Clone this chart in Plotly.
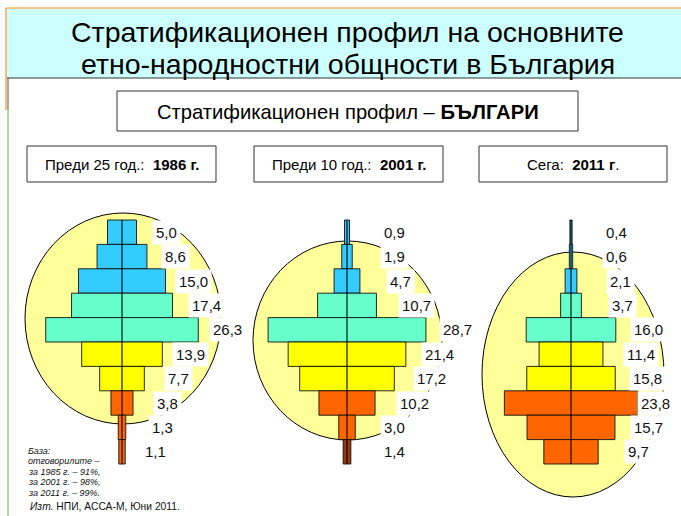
import plotly.graph_objects as go

# ---------------- data ----------------
strata = list(range(10))  # 0 = top stratum, 9 = bottom stratum
values_1986 = [5.0, 8.6, 15.0, 17.4, 26.3, 13.9, 7.7, 3.8, 1.3, 1.1]
values_2001 = [0.9, 1.9, 4.7, 10.7, 28.7, 21.4, 17.2, 10.2, 3.0, 1.4]
values_2011 = [0.4, 0.6, 2.1, 3.7, 16.0, 11.4, 15.8, 23.8, 15.7, 9.7]
labels_1986 = ["5,0", "8,6", "15,0", "17,4", "26,3", "13,9", "7,7", "3,8", "1,3", "1,1"]
labels_2001 = ["0,9", "1,9", "4,7", "10,7", "28,7", "21,4", "17,2", "10,2", "3,0", "1,4"]
labels_2011 = ["0,4", "0,6", "2,1", "3,7", "16,0", "11,4", "15,8", "23,8", "15,7", "9,7"]

title_lines = ["Стратификационен профил на основните", "етно-народностни общности в България"]
subtitle = "Стратификационен профил – <b>БЪЛГАРИ</b>"
period_titles = ["Преди 25 год.:  <b>1986 г.</b>", "Преди 10 год.:  <b>2001 г.</b>", "Сега:  <b>2011 г</b>."]
footnote_base = ["<i>База:</i>", "<i>отговорилите –</i>", "<i>за 1985 г. – 91%,</i>",
                 "<i>за 2001 г. – 98%,</i>", "<i>за 2011 г. – 99%.</i>"]
source = "<i>Изт.</i> НПИ, АССА-М, Юни 2011."

# ---------------- style / layout ----------------
W, H = 681, 516
FONT = "Liberation Sans, Arial, sans-serif"
BLUE, AQUA, YELLOW, ORANGE, BROWN = "#33CCFF", "#66FFCC", "#FFFF00", "#FF6600", "#9A3A0C"
row_colors = [BLUE] * 3 + [AQUA] * 2 + [YELLOW] * 2 + [ORANGE] * 3
colors_2001 = row_colors[:9] + [BROWN]

def px(x):
    return x / W

def py(y):
    return 1 - y / H

# pyramid geometry (pixels): center, pixels per percentage point, domain
pyr = [
    dict(vals=values_1986, labs=labels_1986, cols=row_colors, c=122, k=5.8, dom=(0, 236),
         ell=(25, 213, 221, 424),
         lab_off=[30, 39, 53, 66, 87, 50, 42, 31, 26, 19]),
    dict(vals=values_2001, labs=labels_2001, cols=colors_2001, c=347, k=5.5, dom=(236, 462),
         ell=(253, 241, 442, 440),
         lab_off=[33, 33, 39, 51, 92, 74, 66, 49, 33, 33]),
    dict(vals=values_2011, labs=labels_2011, cols=row_colors, c=571, k=5.6, dom=(462, 681),
         ell=(482, 252, 664, 497),
         lab_off=[31, 31, 35, 37, 59, 52, 58, 66, 59, 53]),
]

# y axis: row i centered at pixel 232.2 + 24.4*i
row_top, row_h = 220.0, 24.4
y_top = -(row_top + row_h / 2) / row_h
y_bot = y_top + H / row_h

fig = go.Figure()
shapes = []
annotations = []

# header decoration
shapes += [
    dict(type="rect", xref="paper", yref="paper", x0=px(7), x1=px(681), y0=py(78), y1=py(8.5),
         fillcolor="#CCFFFF", line=dict(width=0), layer="below"),
    dict(type="line", xref="paper", yref="paper", x0=px(6), x1=px(681), y0=py(8), y1=py(8),
         line=dict(color="#FF8C1A", width=1.2)),
    dict(type="line", xref="paper", yref="paper", x0=px(6), x1=px(6), y0=py(8), y1=py(110),
         line=dict(color="#FF8C1A", width=1.2)),
    dict(type="line", xref="paper", yref="paper", x0=px(7), x1=px(681), y0=py(78), y1=py(78),
         line=dict(color="#333333", width=1)),
    dict(type="line", xref="paper", yref="paper", x0=px(8), x1=px(8), y0=py(78), y1=py(110),
         line=dict(color="#555555", width=1)),
    dict(type="line", xref="paper", yref="paper", x0=px(8), x1=px(8), y0=py(110), y1=py(516),
         line=dict(color="#8FD47F", width=1.5)),
]
for i, line in enumerate(title_lines):
    annotations.append(dict(text=line, xref="paper", yref="paper", x=px(347.5), y=py(31.5 + 32 * i),
                            xanchor="center", yanchor="middle", showarrow=False,
                            font=dict(family=FONT, size=28.5, color="#000000")))

# subtitle box
shapes.append(dict(type="rect", xref="paper", yref="paper", x0=px(117), x1=px(578), y0=py(131), y1=py(91),
                   line=dict(color="#333333", width=1), fillcolor="white"))
annotations.append(dict(text=subtitle, xref="paper", yref="paper", x=px(347.5), y=py(112),
                        xanchor="center", yanchor="middle", showarrow=False,
                        font=dict(family=FONT, size=20.2, color="#000000")))

# period boxes
boxes = [(27, 216), (254, 443), (479, 667)]
for (x0, x1), t in zip(boxes, period_titles):
    shapes.append(dict(type="rect", xref="paper", yref="paper", x0=px(x0), x1=px(x1), y0=py(182), y1=py(146),
                       line=dict(color="#333333", width=1), fillcolor="white"))
    annotations.append(dict(text=t, xref="paper", yref="paper", x=px((x0 + x1) / 2), y=py(164),
                            xanchor="center", yanchor="middle", showarrow=False,
                            font=dict(family=FONT, size=15, color="#000000")))

# pyramids
for n, p in enumerate(pyr):
    ax = "" if n == 0 else str(n + 1)
    xa = "x" + ax
    d0, d1 = p["dom"]
    a = -(p["c"] - d0) / p["k"]
    b = (d1 - p["c"]) / p["k"]
    fig.update_layout(**{("xaxis" + ax): dict(domain=[px(d0), px(d1)], range=[a, b], visible=False,
                                               fixedrange=True, anchor="y")})
    ex0, ey0, ex1, ey1 = p["ell"]
    shapes.append(dict(type="circle", xref="paper", yref="paper", x0=px(ex0), x1=px(ex1),
                       y0=py(ey1), y1=py(ey0), fillcolor="#FFFF99",
                       line=dict(color="#000000", width=1), layer="below"))
    fig.add_trace(go.Bar(
        y=strata, x=p["vals"], base=[-v / 2 for v in p["vals"]], orientation="h",
        width=1.0, marker=dict(color=p["cols"], line=dict(color="#111111", width=0.9)),
        xaxis=xa, yaxis="y", hoverinfo="skip", showlegend=False))
    shapes.append(dict(type="line", xref=xa, yref="y", x0=0, x1=0, y0=-0.5, y1=9.5,
                       line=dict(color="#000000", width=1.1)))
    for i, (lab, off) in enumerate(zip(p["labs"], p["lab_off"])):
        annotations.append(dict(text=lab, xref=xa, yref="y", x=0, y=strata[i], xshift=off,
                                xanchor="left", yanchor="middle", showarrow=False,
                                bgcolor="white", borderpad=3,
                                font=dict(family=FONT, size=15, color="#111111")))

# footnotes
for i, t in enumerate(footnote_base):
    annotations.append(dict(text=t, xref="paper", yref="paper", x=px(26), y=py(451 + 10.4 * i),
                            xanchor="left", yanchor="middle", showarrow=False,
                            font=dict(family=FONT, size=9, color="#111111")))
annotations.append(dict(text=source, xref="paper", yref="paper", x=px(27.5), y=py(506.5),
                        xanchor="left", yanchor="middle", showarrow=False,
                        font=dict(family=FONT, size=10.3, color="#111111")))

fig.update_layout(
    width=W, height=H, margin=dict(l=0, r=0, t=0, b=0),
    paper_bgcolor="white", plot_bgcolor="rgba(0,0,0,0)",
    yaxis=dict(domain=[0, 1], range=[y_bot, y_top], visible=False, fixedrange=True),
    barmode="overlay", shapes=shapes, annotations=annotations, showlegend=False,
)
fig.write_html("out.html", config={"displayModeBar": False},
               post_script="document.body.style.margin='0';document.body.style.overflow='hidden';")
